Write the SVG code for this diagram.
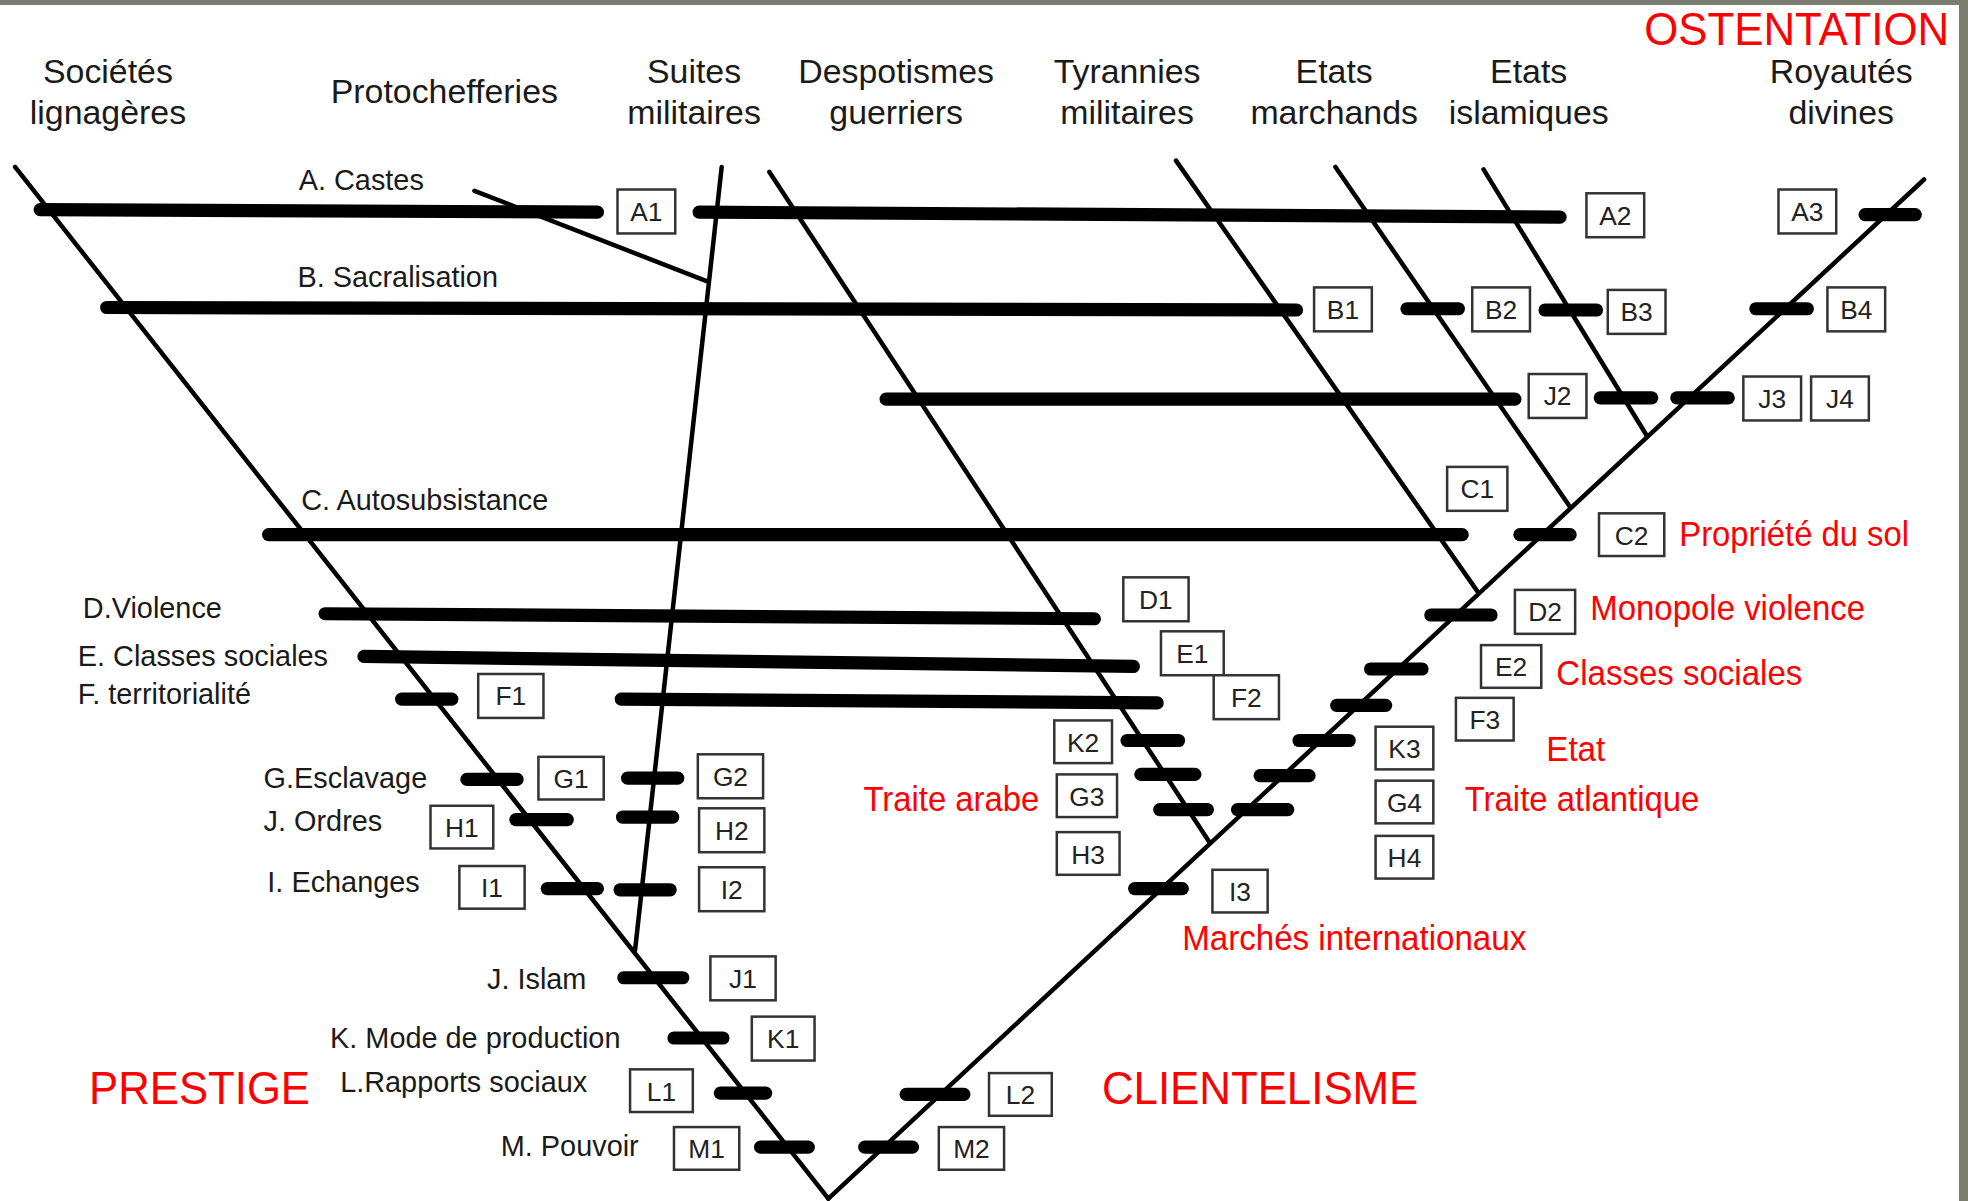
<svg xmlns="http://www.w3.org/2000/svg" width="1968" height="1201" viewBox="0 0 1968 1201">
<style>
text{font-family:"Liberation Sans",Arial,sans-serif}
.ln{stroke:#000;stroke-width:3.6;stroke-linecap:round;fill:none}
.bar{stroke:#000;stroke-width:10.5;stroke-linecap:round}
.box rect{fill:#fff;stroke:#333;stroke-width:2}
.box text{font-size:21px;fill:#222;text-anchor:middle}
.hd{font-size:27px;text-anchor:middle;fill:#1a1a1a}
.lb{font-size:23px;fill:#1a1a1a}
.red{fill:#f00;font-size:28px}
.big{fill:#f00;font-size:37px}
</style>
<rect x="0" y="0" width="1968" height="1201" fill="#fff"/>
<rect x="0" y="0" width="1968" height="5" fill="#7b7c70"/>
<rect x="1959" y="0" width="9" height="1201" fill="#7b7c70"/>
<g transform="scale(1.2551)">
<g id="connectors">
<line class="ln" x1="12" y1="133" x2="660" y2="955"/>
<line class="ln" x1="660" y1="955" x2="1533" y2="143"/>
<line class="ln" x1="575" y1="133" x2="506" y2="757"/>
<line class="ln" x1="378" y1="152" x2="563" y2="224"/>
<line class="ln" x1="613" y1="137" x2="963" y2="670"/>
<line class="ln" x1="937" y1="128" x2="1177" y2="471"/>
<line class="ln" x1="1064" y1="133" x2="1251" y2="404"/>
<line class="ln" x1="1182" y1="135" x2="1312" y2="347"/>
<line class="bar" x1="32" y1="167" x2="476" y2="169"/>
<line class="bar" x1="557" y1="169" x2="1243" y2="173"/>
<line class="bar" x1="1486" y1="171" x2="1526" y2="171"/>
<line class="bar" x1="85" y1="245" x2="1033" y2="247"/>
<line class="bar" x1="1121" y1="246" x2="1162" y2="246"/>
<line class="bar" x1="1231" y1="247" x2="1272" y2="247"/>
<line class="bar" x1="1399" y1="246" x2="1440" y2="246"/>
<line class="bar" x1="706" y1="318" x2="1207" y2="318"/>
<line class="bar" x1="1275" y1="317" x2="1316" y2="317"/>
<line class="bar" x1="1336" y1="317" x2="1377" y2="317"/>
<line class="bar" x1="214" y1="426" x2="1165" y2="426"/>
<line class="bar" x1="1211" y1="426" x2="1251" y2="426"/>
<line class="bar" x1="259" y1="489" x2="872" y2="493"/>
<line class="bar" x1="1140" y1="490" x2="1188" y2="490"/>
<line class="bar" x1="290" y1="523" x2="903" y2="531"/>
<line class="bar" x1="1092" y1="533" x2="1133" y2="533"/>
<line class="bar" x1="320" y1="557" x2="360" y2="557"/>
<line class="bar" x1="495" y1="557" x2="922" y2="560"/>
<line class="bar" x1="1065" y1="562" x2="1104" y2="562"/>
<line class="bar" x1="898" y1="590" x2="939" y2="590"/>
<line class="bar" x1="909" y1="617" x2="952" y2="617"/>
<line class="bar" x1="924" y1="645" x2="962" y2="645"/>
<line class="bar" x1="1035" y1="590" x2="1075" y2="590"/>
<line class="bar" x1="1004" y1="618" x2="1043" y2="618"/>
<line class="bar" x1="986" y1="645" x2="1026" y2="645"/>
<line class="bar" x1="904" y1="708" x2="942" y2="708"/>
<line class="bar" x1="372" y1="621" x2="412" y2="621"/>
<line class="bar" x1="500" y1="620" x2="540" y2="620"/>
<line class="bar" x1="411" y1="653" x2="452" y2="653"/>
<line class="bar" x1="496" y1="651" x2="536" y2="651"/>
<line class="bar" x1="436" y1="708" x2="476" y2="708"/>
<line class="bar" x1="494" y1="709" x2="534" y2="709"/>
<line class="bar" x1="497" y1="779" x2="544" y2="779"/>
<line class="bar" x1="537" y1="827" x2="576" y2="827"/>
<line class="bar" x1="574" y1="871" x2="610" y2="871"/>
<line class="bar" x1="606" y1="914" x2="644" y2="914"/>
<line class="bar" x1="722" y1="872" x2="768" y2="872"/>
<line class="bar" x1="689" y1="914" x2="727" y2="914"/>
</g>
<g id="headers">
<text class="hd" x="86" y="66">Sociétés</text>
<text class="hd" x="86" y="99">lignagères</text>
<text class="hd" x="354" y="82">Protochefferies</text>
<text class="hd" x="553" y="66">Suites</text>
<text class="hd" x="553" y="99">militaires</text>
<text class="hd" x="714" y="66">Despotismes</text>
<text class="hd" x="714" y="99">guerriers</text>
<text class="hd" x="898" y="66">Tyrannies</text>
<text class="hd" x="898" y="99">militaires</text>
<text class="hd" x="1063" y="66">Etats</text>
<text class="hd" x="1063" y="99">marchands</text>
<text class="hd" x="1218" y="66">Etats</text>
<text class="hd" x="1218" y="99">islamiques</text>
<text class="hd" x="1467" y="66">Royautés</text>
<text class="hd" x="1467" y="99">divines</text>
</g>
<g id="labels">
<text class="lb" x="238" y="151">A. Castes</text>
<text class="lb" x="237" y="229">B. Sacralisation</text>
<text class="lb" x="240" y="406">C. Autosubsistance</text>
<text class="lb" x="66" y="492">D.Violence</text>
<text class="lb" x="62" y="531">E. Classes sociales</text>
<text class="lb" x="62" y="561">F. territorialité</text>
<text class="lb" x="210" y="628">G.Esclavage</text>
<text class="lb" x="210" y="662">J. Ordres</text>
<text class="lb" x="213" y="711">I. Echanges</text>
<text class="lb" x="388" y="788">J. Islam</text>
<text class="lb" x="263" y="835">K. Mode de production</text>
<text class="lb" x="271" y="870">L.Rapports sociaux</text>
<text class="lb" x="399" y="921">M. Pouvoir</text>
</g>
<g id="red-labels">
<text class="big" x="1310" y="36" textLength="243" lengthAdjust="spacingAndGlyphs">OSTENTATION</text>
<text class="big" x="71" y="880" textLength="176" lengthAdjust="spacingAndGlyphs">PRESTIGE</text>
<text class="big" x="878" y="880" textLength="252" lengthAdjust="spacingAndGlyphs">CLIENTELISME</text>
<text class="red" x="1338" y="435" textLength="183" lengthAdjust="spacingAndGlyphs">Propriété du sol</text>
<text class="red" x="1267" y="494" textLength="219" lengthAdjust="spacingAndGlyphs">Monopole violence</text>
<text class="red" x="1240" y="546" textLength="196" lengthAdjust="spacingAndGlyphs">Classes sociales</text>
<text class="red" x="1232" y="606" textLength="47" lengthAdjust="spacingAndGlyphs">Etat</text>
<text class="red" x="1167" y="646" textLength="187" lengthAdjust="spacingAndGlyphs">Traite atlantique</text>
<text class="red" x="688" y="646" textLength="140" lengthAdjust="spacingAndGlyphs">Traite arabe</text>
<text class="red" x="942" y="757" textLength="274" lengthAdjust="spacingAndGlyphs">Marchés internationaux</text>
</g>
<g id="A1" class="box"><rect x="492" y="151" width="46" height="35"/><text x="515" y="176">A1</text></g>
<g id="A2" class="box"><rect x="1264" y="154" width="46" height="35"/><text x="1287" y="179">A2</text></g>
<g id="A3" class="box"><rect x="1417" y="151" width="46" height="35"/><text x="1440" y="176">A3</text></g>
<g id="B1" class="box"><rect x="1047" y="229" width="46" height="35"/><text x="1070" y="254">B1</text></g>
<g id="B2" class="box"><rect x="1173" y="229" width="46" height="35"/><text x="1196" y="254">B2</text></g>
<g id="B3" class="box"><rect x="1281" y="231" width="46" height="35"/><text x="1304" y="256">B3</text></g>
<g id="B4" class="box"><rect x="1456" y="229" width="46" height="35"/><text x="1479" y="254">B4</text></g>
<g id="J2" class="box"><rect x="1218" y="298" width="46" height="35"/><text x="1241" y="323">J2</text></g>
<g id="J3" class="box"><rect x="1389" y="300" width="46" height="35"/><text x="1412" y="325">J3</text></g>
<g id="J4" class="box"><rect x="1443" y="300" width="46" height="35"/><text x="1466" y="325">J4</text></g>
<g id="C1" class="box"><rect x="1153" y="372" width="48" height="35"/><text x="1177" y="397">C1</text></g>
<g id="C2" class="box"><rect x="1274" y="409" width="52" height="34"/><text x="1300" y="434">C2</text></g>
<g id="D1" class="box"><rect x="895" y="460" width="52" height="35"/><text x="921" y="485">D1</text></g>
<g id="D2" class="box"><rect x="1207" y="470" width="48" height="35"/><text x="1231" y="495">D2</text></g>
<g id="E1" class="box"><rect x="925" y="503" width="50" height="35"/><text x="950" y="528">E1</text></g>
<g id="E2" class="box"><rect x="1180" y="514" width="48" height="34"/><text x="1204" y="539">E2</text></g>
<g id="F1" class="box"><rect x="381" y="537" width="52" height="35"/><text x="407" y="562">F1</text></g>
<g id="F2" class="box"><rect x="967" y="538" width="52" height="35"/><text x="993" y="563">F2</text></g>
<g id="F3" class="box"><rect x="1160" y="556" width="46" height="34"/><text x="1183" y="581">F3</text></g>
<g id="K2" class="box"><rect x="840" y="574" width="46" height="34"/><text x="863" y="599">K2</text></g>
<g id="G3" class="box"><rect x="842" y="617" width="48" height="34"/><text x="866" y="642">G3</text></g>
<g id="H3" class="box"><rect x="842" y="663" width="50" height="34"/><text x="867" y="688">H3</text></g>
<g id="K3" class="box"><rect x="1096" y="579" width="46" height="34"/><text x="1119" y="604">K3</text></g>
<g id="G4" class="box"><rect x="1096" y="622" width="46" height="34"/><text x="1119" y="647">G4</text></g>
<g id="H4" class="box"><rect x="1096" y="666" width="46" height="34"/><text x="1119" y="691">H4</text></g>
<g id="I3" class="box"><rect x="966" y="693" width="44" height="34"/><text x="988" y="718">I3</text></g>
<g id="G1" class="box"><rect x="429" y="603" width="52" height="34"/><text x="455" y="628">G1</text></g>
<g id="G2" class="box"><rect x="556" y="601" width="52" height="35"/><text x="582" y="626">G2</text></g>
<g id="H1" class="box"><rect x="343" y="642" width="50" height="34"/><text x="368" y="667">H1</text></g>
<g id="H2" class="box"><rect x="557" y="644" width="52" height="35"/><text x="583" y="669">H2</text></g>
<g id="I1" class="box"><rect x="366" y="690" width="52" height="34"/><text x="392" y="715">I1</text></g>
<g id="I2" class="box"><rect x="557" y="691" width="52" height="35"/><text x="583" y="716">I2</text></g>
<g id="J1" class="box"><rect x="566" y="762" width="52" height="35"/><text x="592" y="787">J1</text></g>
<g id="K1" class="box"><rect x="599" y="810" width="50" height="35"/><text x="624" y="835">K1</text></g>
<g id="L1" class="box"><rect x="502" y="852" width="50" height="34"/><text x="527" y="877">L1</text></g>
<g id="M1" class="box"><rect x="537" y="898" width="52" height="34"/><text x="563" y="923">M1</text></g>
<g id="L2" class="box"><rect x="788" y="855" width="50" height="34"/><text x="813" y="880">L2</text></g>
<g id="M2" class="box"><rect x="748" y="898" width="52" height="34"/><text x="774" y="923">M2</text></g>
</g>
</svg>
